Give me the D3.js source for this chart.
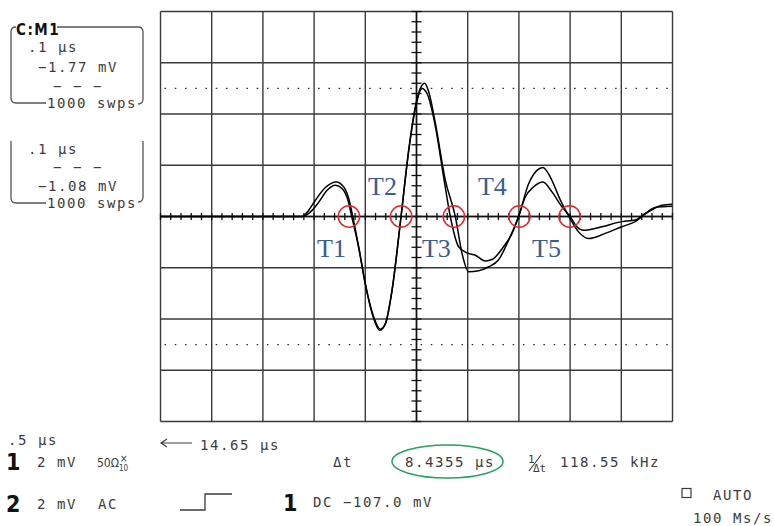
<!DOCTYPE html>
<html><head><meta charset="utf-8">
<script src="https://cdn.jsdelivr.net/npm/d3@7"></script>
<style>
html,body{margin:0;padding:0;background:#fff;}
svg{display:block;}
</style></head>
<body>
<svg id="c" width="774" height="526"></svg>
<script>
// ---- data (x in divisions 0..10, y in divisions -4..4) ----
const traceA_x = [0, 2.766, 2.895, 3.026, 3.22, 3.435, 3.578, 3.676, 3.755, 3.87, 4.0, 4.165, 4.294, 4.392, 4.523, 4.698, 4.847, 4.977, 5.075, 5.16, 5.24, 5.37, 5.563, 5.758, 5.889, 6.018, 6.213, 6.41, 6.6, 6.8, 6.994, 7.19, 7.353, 7.47, 7.613, 7.81, 8.0, 8.166, 8.36, 8.686, 9.01, 9.27, 9.53, 9.79, 9.99];
const traceA_y = [0, 0, 0.123, 0.318, 0.565, 0.675, 0.578, 0.351, 0, -0.59, -1.31, -1.96, -2.2, -2.09, -1.44, 0, 1.29, 2.14, 2.5, 2.6, 2.43, 1.81, 0.71, 0, -0.72, -1.08, -1.06, -0.98, -0.85, -0.46, 0, 0.64, 0.9, 0.956, 0.77, 0.32, -0.04, -0.3, -0.43, -0.33, -0.2, -0.1, 0.09, 0.22, 0.24];
const traceB_x = [0, 2.766, 2.93, 3.09, 3.254, 3.416, 3.546, 3.66, 3.735, 3.87, 4.0, 4.16, 4.28, 4.39, 4.52, 4.698, 4.85, 4.98, 5.108, 5.206, 5.37, 5.53, 5.66, 5.823, 5.987, 6.15, 6.344, 6.474, 6.7, 6.865, 6.994, 7.125, 7.287, 7.47, 7.646, 7.84, 8.0, 8.133, 8.263, 8.622, 9.01, 9.27, 9.467, 9.66, 9.99];
const traceB_y = [0, 0, 0.09, 0.28, 0.513, 0.61, 0.546, 0.32, 0, -0.6, -1.32, -1.98, -2.22, -2.1, -1.45, 0, 1.3, 2.12, 2.5, 2.4, 1.75, 0.77, 0, -0.59, -0.71, -0.755, -0.866, -0.84, -0.59, -0.33, 0, 0.38, 0.58, 0.675, 0.48, 0.19, 0, -0.2, -0.27, -0.2, -0.1, -0.07, 0.06, 0.175, 0.2];
const markerX = [3.68, 4.70, 5.73, 7.01, 7.99];
const markerLabels = ["T1", "T2", "T3", "T4", "T5"];
const labelX = [3.057, 4.053, 5.107, 6.201, 7.256];
const labelY = [-0.79, 0.42, -0.79, 0.42, -0.79];
const xDivs = d3.range(0, 11);
const yDivs = d3.range(-4, 5);
const dottedY = [2.5, -2.5];
const minorX = d3.range(0, 50.01, 1).map(d => d / 5);
const minorY = d3.range(-20, 20.01, 1).map(d => d / 5);

const svg = d3.select("#c");
const x = d3.scaleLinear().domain([0, 10]).range([160.5, 672.5]);
const y = d3.scaleLinear().domain([-4, 4]).range([421.5, 11.5]);
const grid = "#3a3a3a";
const txt = "#3c3c3c";
const mono = "'DejaVu Sans Mono', monospace";

// grid
svg.append("g").selectAll("line").data(xDivs).join("line")
  .attr("x1", d => x(d)).attr("x2", d => x(d))
  .attr("y1", y(4)).attr("y2", y(-4))
  .attr("stroke", grid).attr("stroke-width", 1.4);
svg.append("g").selectAll("line").data(yDivs).join("line")
  .attr("x1", x(0)).attr("x2", x(10))
  .attr("y1", d => y(d)).attr("y2", d => y(d))
  .attr("stroke", grid).attr("stroke-width", 1.4);
// dotted lines
svg.append("g").selectAll("line").data(dottedY).join("line")
  .attr("x1", x(0) + 4).attr("x2", x(10))
  .attr("y1", d => y(d)).attr("y2", d => y(d))
  .attr("stroke", "#333").attr("stroke-width", 1.2)
  .attr("stroke-dasharray", "1.6,8.64");
// center axis ticks
svg.append("g").selectAll("line").data(minorX).join("line")
  .attr("x1", d => x(d)).attr("x2", d => x(d))
  .attr("y1", y(0) - 3.6).attr("y2", y(0) + 3.6)
  .attr("stroke", "#111").attr("stroke-width", 1.3);
svg.append("g").selectAll("line").data(minorY).join("line")
  .attr("x1", x(5) - 5).attr("x2", x(5) + 5)
  .attr("y1", d => y(d)).attr("y2", d => y(d))
  .attr("stroke", "#111").attr("stroke-width", 1.3);
svg.append("line").attr("x1", x(0)).attr("x2", x(10)).attr("y1", y(0)).attr("y2", y(0))
  .attr("stroke", "#111").attr("stroke-width", 1.5);
svg.append("line").attr("x1", x(5)).attr("x2", x(5)).attr("y1", y(4)).attr("y2", y(-4))
  .attr("stroke", "#111").attr("stroke-width", 1.5);

// traces
const line = d3.line().x(d => x(d[0])).y(d => y(d[1])).curve(d3.curveMonotoneX);
[[traceA_x, traceA_y], [traceB_x, traceB_y]].forEach(([xs, ys]) => {
  svg.append("path").datum(xs.map((v, i) => [v, ys[i]]))
    .attr("d", line).attr("fill", "none")
    .attr("stroke", "#000").attr("stroke-width", 1.5)
    .attr("stroke-linejoin", "round");
});

// markers
svg.append("g").selectAll("circle").data(markerX).join("circle")
  .attr("cx", d => x(d)).attr("cy", y(0)).attr("r", 10.7)
  .attr("fill", "none").attr("stroke", "#e8242c").attr("stroke-width", 1.5);
svg.append("g").selectAll("text").data(markerLabels).join("text")
  .attr("x", (d, i) => x(labelX[i])).attr("y", (d, i) => y(labelY[i]))
  .attr("font-family", "'Liberation Serif', 'Times New Roman', serif")
  .attr("font-size", 26).attr("fill", "#3b5c8e").text(d => d);

// left panels
const panel = svg.append("g").attr("fill", "none").attr("stroke", "#555").attr("stroke-width", 1.3);
panel.append("path").attr("d", "M16 27 Q11 27 11 32 L11 98 Q11 103 16 103 L46 103");
panel.append("path").attr("d", "M57 27 L138 27 Q143 27 143 32 L143 99 Q143 104 138 104");
panel.append("path").attr("d", "M11 141 L11 198 Q11 203 16 203 L46 203");
panel.append("path").attr("d", "M143 141 L143 197 Q143 202 138 202");

function t(xp, yp, s, opts = {}) {
  return svg.append("text").attr("x", xp).attr("y", yp)
    .attr("font-family", opts.family || mono)
    .attr("font-size", opts.size || 14)
    .attr("font-weight", opts.weight || "normal")
    .attr("letter-spacing", opts.ls !== undefined ? opts.ls : 1.57)
    .attr("fill", opts.fill || txt).text(s);
}
const condB = { family: "'DejaVu Sans Condensed', 'DejaVu Sans', sans-serif", weight: "bold", ls: 0, fill: "#111" };
t(16, 35, "C:M1", Object.assign({}, condB, { size: 15, ls: 1.5 }));
t(28, 52, ".1 µs");
t(38, 72, "−1.77 mV");
t(53, 91, "− − −");
t(47, 108, "1000 swps");
t(28, 154, ".1 µs");
t(53, 172, "− − −");
t(38, 191, "−1.08 mV");
t(47, 208, "1000 swps");

// bottom readouts
t(8, 445, ".5 µs");
svg.append("path").attr("d", "M161 443 L192 443 M167 439 L161 443 L167 447")
  .attr("fill", "none").attr("stroke", txt).attr("stroke-width", 1.2);
t(200, 450, "14.65 µs");
t(6, 470, "1", Object.assign({}, condB, { size: 23 }));
t(37, 467, "2 mV");
t(97, 467, "50Ω", { family: "'DejaVu Sans Condensed', sans-serif", size: 12, ls: 0 });
t(120, 462, "×", { family: "'DejaVu Sans Condensed', sans-serif", size: 10, ls: 0 });
t(119, 471, "10", { family: "'DejaVu Sans Condensed', sans-serif", size: 8, ls: 0 });
t(333, 467, "Δt");
svg.append("ellipse").attr("cx", 447.5).attr("cy", 461.5).attr("rx", 55.5).attr("ry", 16.5)
  .attr("fill", "none").attr("stroke", "#22a45c").attr("stroke-width", 1.5);
t(405, 467, "8.4355 µs");
t(528, 463, "1", { size: 11, ls: 0 });
svg.append("line").attr("x1", 529).attr("y1", 471).attr("x2", 541).attr("y2", 455)
  .attr("stroke", txt).attr("stroke-width", 1.1);
t(533, 472, "Δt", { size: 11, ls: 0 });
t(560, 467, "118.55 kHz");
t(6, 512, "2", Object.assign({}, condB, { size: 23 }));
t(37, 509, "2 mV");
t(98, 509, "AC");
svg.append("path").attr("d", "M180 510 L205 510 L205 494 L232 494")
  .attr("fill", "none").attr("stroke", txt).attr("stroke-width", 1.3);
t(283, 511, "1", Object.assign({}, condB, { size: 23 }));
t(313, 507, "DC −107.0 mV");
svg.append("rect").attr("x", 682).attr("y", 488.5).attr("width", 9).attr("height", 9)
  .attr("fill", "none").attr("stroke", txt).attr("stroke-width", 1.2);
t(713, 500, "AUTO");
t(693, 523, "100 Ms/s");
</script>
</body></html>
